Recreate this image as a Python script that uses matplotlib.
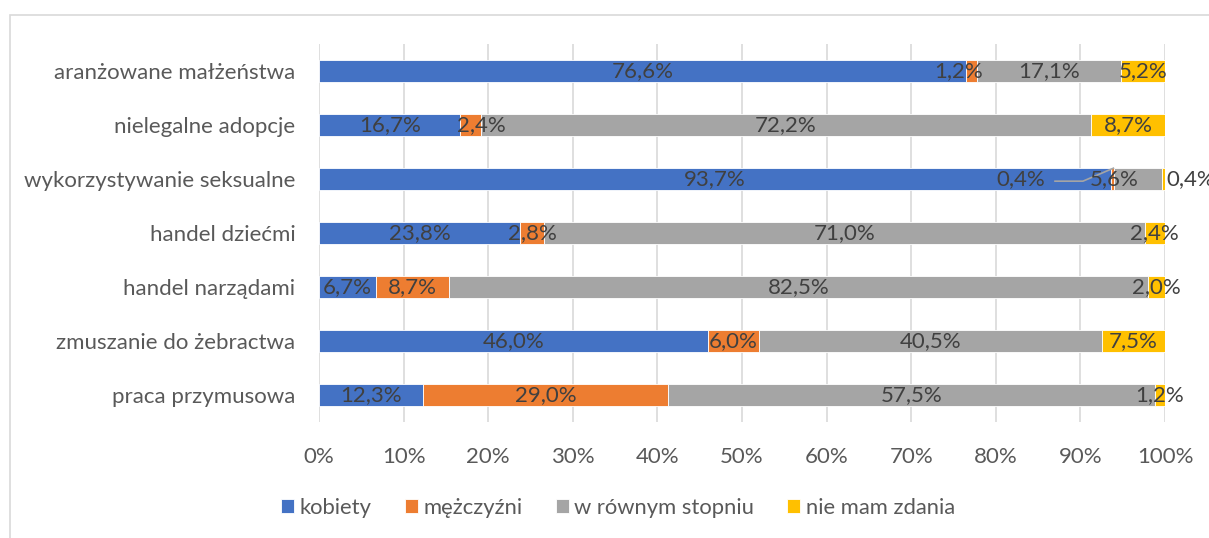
import numpy as np
import matplotlib.pyplot as plt
from matplotlib.patches import Rectangle

plt.rcParams['font.family'] = ['Lato', 'DejaVu Sans']

kategorie = ['aranżowane małżeństwa', 'nielegalne adopcje', 'wykorzystywanie seksualne',
             'handel dziećmi', 'handel narządami', 'zmuszanie do żebractwa', 'praca przymusowa']
serie = ['kobiety', 'mężczyźni', 'w równym stopniu', 'nie mam zdania']
kobiety = [76.6, 16.7, 93.7, 23.8, 6.7, 46.0, 12.3]
mezczyzni = [1.2, 2.4, 0.4, 2.8, 8.7, 6.0, 29.0]
rowno = [17.1, 72.2, 5.6, 71.0, 82.5, 40.5, 57.5]
brak_zdania = [5.2, 8.7, 0.4, 2.4, 2.0, 7.5, 1.2]
kolory = ['#4472C4', '#ED7D31', '#A5A5A5', '#FFC000']

dane = np.array([kobiety, mezczyzni, rowno, brak_zdania])
dane = dane / dane.sum(axis=0) * 100  # 100% skumulowane

fs = 16
fig = plt.figure(figsize=(12.09, 5.38), dpi=100)
ax = fig.add_axes([319/1209, 1-422/538, (1165-319)/1209, (422-44)/538])

# ramka wykresu
fig.patches.append(Rectangle((10/1209, -0.1), 1.2, 1-15/538+0.1, transform=fig.transFigure,
                             fill=False, edgecolor='#D9D9D9', linewidth=1.2))

y = np.arange(len(kategorie))[::-1]
lewo = np.zeros(len(kategorie))
txt = '#404040'
for i, nazwa in enumerate(serie):
    ax.barh(y, dane[i], left=lewo, height=0.41, color=kolory[i], label=nazwa,
            edgecolor='white', linewidth=0.6, zorder=2)
    wartosci = [kobiety, mezczyzni, rowno, brak_zdania][i]
    for j in range(len(kategorie)):
        x = lewo[j] + dane[i][j] / 2
        etykieta = f'{wartosci[j]:.1f}%'.replace('.', ',')
        ha = 'center'
        if kategorie[j] == 'wykorzystywanie seksualne':
            if i == 1:
                x = 83.0
                ax.plot([87.0, 90.3, 93.9], [y[j] - 0.04, y[j] - 0.04, y[j] + 0.2],
                        color='#A5A5A5', lw=1.2, zorder=3)
            elif i == 2:
                x = 94.0
            elif i == 3:
                x = 100.2
                ha = 'left'
        if kategorie[j] == 'aranżowane małżeństwa' and i == 1:
            x = 75.6
        if kategorie[j] == 'nielegalne adopcje' and i == 1:
            x += 1.3
        ax.text(x, y[j], etykieta, ha=ha, va='center', fontsize=fs, color=txt, zorder=4,
                clip_on=False)
    lewo += dane[i]

ax.set_xlim(0, 100)
ax.set_ylim(-0.5, len(kategorie) - 0.5)
ax.set_yticks(y)
ax.set_yticklabels(kategorie)
ax.set_xticks(np.arange(0, 101, 10))
ax.set_xticklabels([f'{v}%' for v in range(0, 101, 10)])
ax.tick_params(axis='both', length=0, labelsize=fs, labelcolor='#595959')
ax.tick_params(axis='x', pad=18)
ax.tick_params(axis='y', pad=17)
ax.grid(True, axis='x', color='#D9D9D9', linewidth=1.2, zorder=0)
ax.set_axisbelow(True)
for s in ax.spines.values():
    s.set_visible(False)

ax.legend(loc='center', bbox_to_anchor=(618/1209, 1-508/538), bbox_transform=fig.transFigure,
          ncol=4, frameon=False, fontsize=15.8, labelcolor='#595959', handlelength=0.6,
          handleheight=0.6, handletextpad=0.25, columnspacing=1.5)

fig.savefig('out.png', dpi=100)
